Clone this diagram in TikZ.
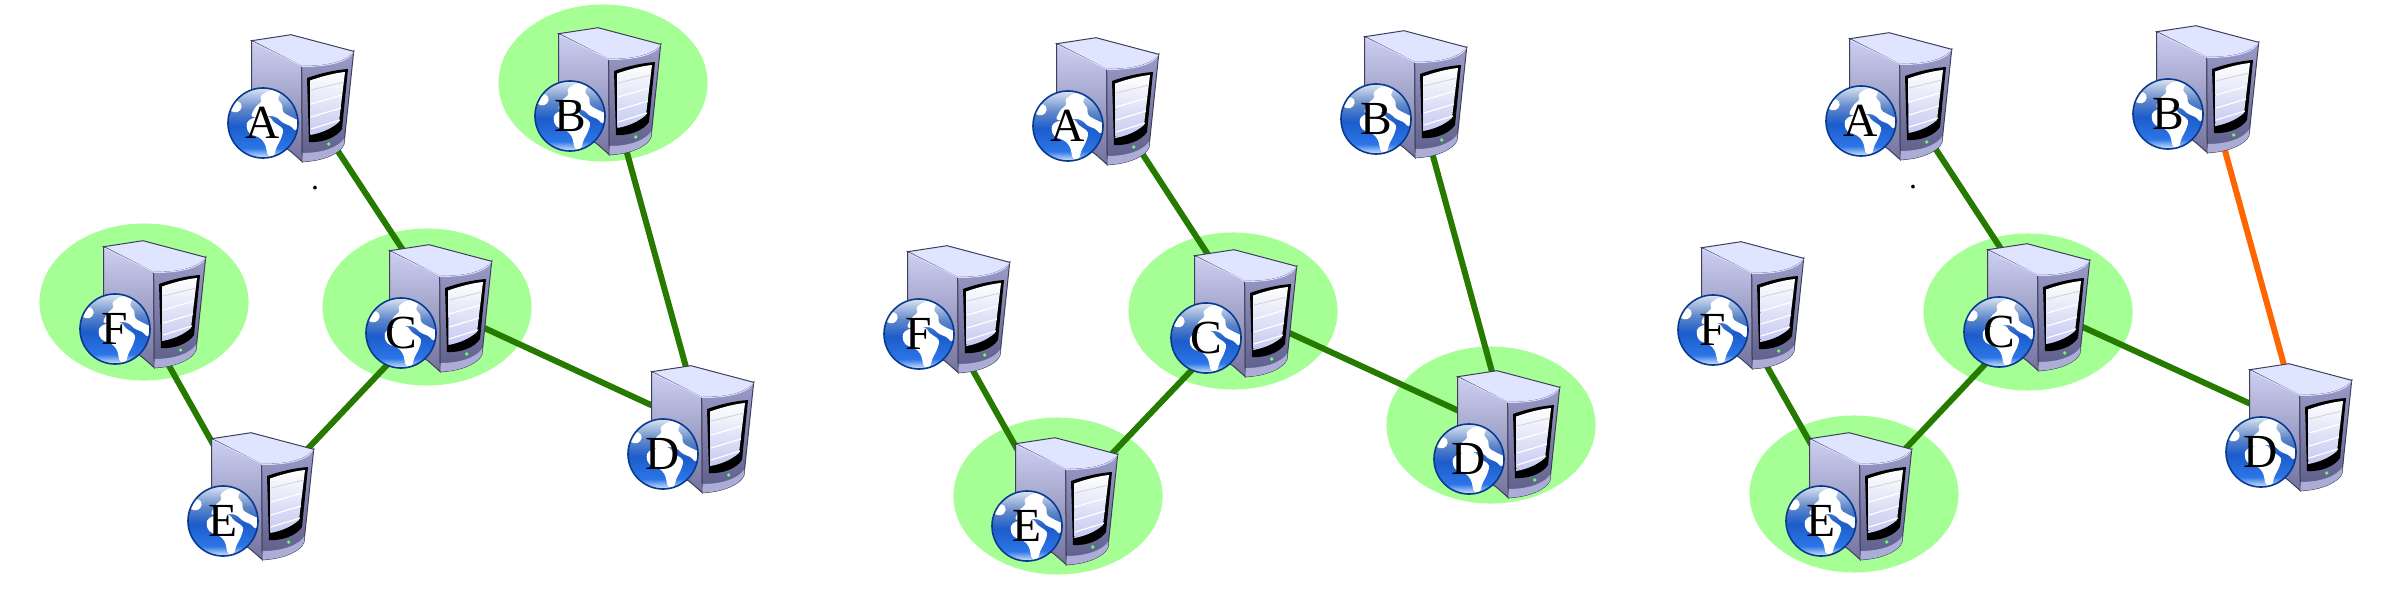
\documentclass[tikz,border=0pt]{standalone}
\usepackage{fontspec}
\setmainfont{Liberation Serif}
\usepackage{tikz}
\usepackage{xcolor}
\usetikzlibrary{shapes.geometric, backgrounds}
\definecolor{halogreen}{HTML}{A6FF95}
\definecolor{linkgreen}{HTML}{267A00}
\definecolor{linkorange}{HTML}{FF6600}
\definecolor{caseedge}{HTML}{3F3F5C}
\definecolor{sidetop}{HTML}{CDD0F2}
\definecolor{sidebottom}{HTML}{72729E}
\definecolor{fronttop}{HTML}{9C9CC8}
\definecolor{frontbottom}{HTML}{5C5C88}
\definecolor{caselip}{HTML}{ABADD6}
\definecolor{casetop}{HTML}{DFE4FF}
\definecolor{slatend}{HTML}{C4C8F0}
\definecolor{globeedge}{HTML}{0A3A8E}
\definecolor{globesky}{HTML}{DCE4F2}
\definecolor{globemid}{HTML}{5F87C9}
\definecolor{globeblue}{HTML}{1C5CCB}
\definecolor{globelow}{HTML}{2C76E8}
\definecolor{globerim}{HTML}{D8E8FB}
\pgfdeclareverticalshading{globeshade}{100bp}{color(0bp)=(globerim); color(25bp)=(globerim); color(32bp)=(globelow); color(48bp)=(globeblue); color(60bp)=(globemid); color(75bp)=(globesky); color(100bp)=(globesky)}
\tikzstyle{halo} = [ellipse, 
minimum width=2.09cm, 
minimum height=1.57cm, 
inner sep=0pt, 
fill=halogreen]
\tikzstyle{tower} = [rectangle, 
minimum width=0.4cm, 
minimum height=0.6cm, 
inner sep=0pt]
\tikzstyle{globe} = [circle, 
minimum size=0.7cm, 
inner sep=0pt, 
draw=globeedge, 
line width=0.016cm, 
font=\fontsize{13.5}{13.5}\selectfont]
\tikzstyle{link} = [line width=0.06cm, draw=linkgreen]
\tikzstyle{downlink} = [line width=0.06cm, draw=linkorange]
\tikzstyle{speck} = [inner sep=0pt, anchor=base, font=\small]
\tikzset{
  pics/server/.style={code={
    % side, top and front of the case
    \path[draw=caseedge, line width=0.01cm, top color=sidetop, bottom color=sidebottom] (-11.3,-82.3) -- (38.7,-56.7) -- (39.3,38.7) -- (28,28.7) -- (-11.3,0) -- cycle;
    \path[draw=caseedge, line width=0.01cm, fill=casetop] (-11.3,-82.3) -- (28,-88.3) -- (90.7,-71.7) .. controls (85,-60) and (60,-56) .. (38.7,-56.7) -- cycle;
    \path[draw=caseedge, line width=0.01cm, top color=fronttop, bottom color=frontbottom] (38.7,-56.7) .. controls (60,-56) and (85,-60) .. (90.7,-71.7) -- (81,21) .. controls (78,30) and (60,38) .. (39.3,38.7) -- cycle;
    \fill[caselip] (39.6,30) .. controls (60,30) and (76,24) .. (81.5,15) -- (81,21) .. controls (78,30) and (60,38) .. (39.3,38.7) -- cycle;
    \draw[white!85!blue, line width=0.012cm] (-10.5,-81) -- (38.7,-56.7) .. controls (60,-56) and (85,-60) .. (90,-71);
    % window with its slats
    \fill[black] (44,-45) .. controls (58,-50) and (72,-53) .. (85,-54) -- (79,6) .. controls (74,14) and (60,20) .. (46,19) -- cycle;
    \path[top color=white, bottom color=slatend] (47,-42.5) .. controls (60,-47) and (72,-50) .. (82,-51) -- (76,-1) .. controls (68,6) and (58,10) .. (47.5,12) -- cycle;
    \draw[gray!35, line width=0.008cm] (48,-33) -- (81,-41);
    \draw[white, line width=0.012cm] (48,-19) -- (79,-28);
    \draw[white, line width=0.012cm] (48,-6) -- (78,-15);
    \draw[white, line width=0.012cm] (48,6) -- (77,-3);
    \fill[green!60!white] (65.7,21) circle (1.8);
    % globe with its land
    \path[shading=globeshade] (0,0) circle (35);
    \begin{scope}
    \clip (0,0) circle (35);
    \fill[white, rounded corners=1] (-13,-6) -- (-7,-17) -- (0,-22) -- (-4,-26) -- (6,-33) -- (19,-33) -- (14,-23) -- (20,-19) -- (19,-11) -- (28,-6) -- (37,-2) -- (33,9) -- (27,2) -- (21,1) -- (17,-3) -- (12,-7) -- (4,-7) -- (-3,-6) -- cycle;
    \fill[white, rounded corners=1] (-15,-3) -- (-3,-7) -- (7,-7) -- (9,-2) -- (21,6) -- (18,16) -- (13,25) -- (11,34) -- (5,34) -- (2,20) -- (-4,14) -- (-14,11) -- (-17,3) -- cycle;
    \fill[white, rounded corners=1] (-34,-14) -- (-28,-23) -- (-21,-20) -- (-22,-12) -- (-30,-10) -- cycle;
    \end{scope}
    \node (-t) [tower] at (40,-25) {};
    \node (-g) [globe] at (0,0) {#1};
  }}
}

\begin{document}
\begin{tikzpicture}[x=0.01cm, y=-0.01cm]
        \useasboundingbox (0,0) rectangle (2400,600);

        % first network
        \pic (a1) at (263,123) {server=A};
        \pic (b1) at (570,116) {server=B};
        \pic (c1) at (401,333) {server=C};
        \pic (d1) at (663,454) {server=D};
        \pic (e1) at (223,521) {server=E};
        \pic (f1) at (115,329) {server=F};
        \node (dot1) [speck] at (315,189) {.};

        % second network
        \pic (a2) at (1068,126) {server=A};
        \pic (b2) at (1376,119) {server=B};
        \pic (c2) at (1206,338) {server=C};
        \pic (d2) at (1469,459) {server=D};
        \pic (e2) at (1027,526) {server=E};
        \pic (f2) at (919,334) {server=F};

        % third network
        \pic (a3) at (1861,121) {server=A};
        \pic (b3) at (2168,114) {server=B};
        \pic (c3) at (1999,332) {server=C};
        \pic (d3) at (2261,452) {server=D};
        \pic (e3) at (1821,521) {server=E};
        \pic (f3) at (1713,330) {server=F};
        \node (dot3) [speck] at (1913,188) {.};

        \begin{scope}[on background layer]
        \node (halob1) [halo] at (603,83) {};
        \node (haloc1) [halo] at (427,307) {};
        \node (halof1) [halo] at (144,302) {};
        \node (haloc2) [halo] at (1233,311) {};
        \node (halod2) [halo] at (1491,425) {};
        \node (haloe2) [halo] at (1058,496) {};
        \node (haloc3) [halo] at (2028,312) {};
        \node (haloe3) [halo] at (1854,494) {};

        \draw [link] (a1-t) -- (c1-t);
        \draw [link] (b1-t) -- (d1-t);
        \draw [link] (c1-t) -- (d1-t);
        \draw [link] (c1-t) -- (e1-t);
        \draw [link] (e1-t.west) -- (f1-t.west);

        \draw [link] (a2-t) -- (c2-t);
        \draw [link] (b2-t) -- (d2-t);
        \draw [link] (c2-t) -- (d2-t);
        \draw [link] (c2-t) -- (e2-t);
        \draw [link] (e2-t.west) -- (f2-t.west);

        \draw [link] (a3-t) -- (c3-t);
        \draw [downlink] (b3-t) -- (d3-t);
        \draw [link] (c3-t) -- (d3-t);
        \draw [link] (c3-t) -- (e3-t);
        \draw [link] (e3-t.west) -- (f3-t.west);
        \end{scope}

    \end{tikzpicture}
\end{document}
